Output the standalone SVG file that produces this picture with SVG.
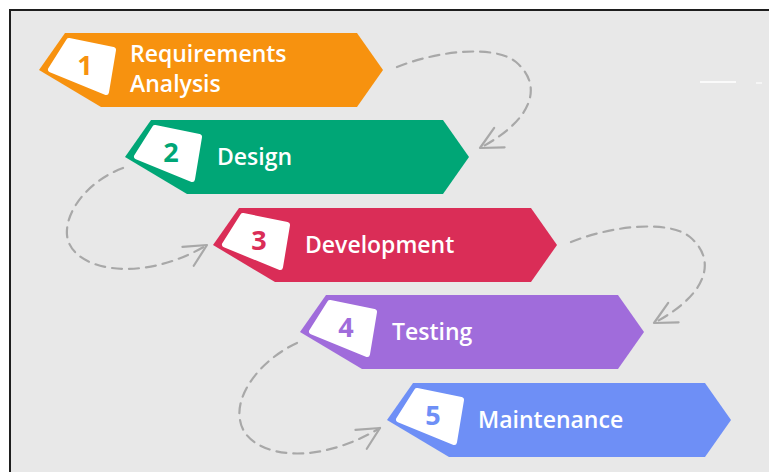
<svg xmlns="http://www.w3.org/2000/svg" xmlns:xlink="http://www.w3.org/1999/xlink" width="769" height="472" viewBox="0 0 769 472">
  <style>
    .label { font-family: "Open Sans", "Liberation Sans", sans-serif; font-weight: 600; font-size: 23px; fill: #ffffff; }
    .num { font-family: "Open Sans", "Liberation Sans", sans-serif; font-weight: 700; font-size: 27px; text-anchor: middle; }
    .card { fill: #ffffff; stroke: #ffffff; stroke-width: 6; stroke-linejoin: round; }
    .conn { fill: none; stroke: #a8a8a8; stroke-width: 2.2; stroke-dasharray: 10 7; stroke-linecap: round; marker-end: url(#chev); }
  </style>
  <defs>
    <path id="shape" d="M0,0 L26,-37 L318,-37 L344,0 L318,37 L62,37 Z"/>
    <polygon id="cardShape" points="12,-0.5 30,-29 74,-20 67,22"/>
    <marker id="chev" markerUnits="userSpaceOnUse" markerWidth="34" markerHeight="34" viewBox="-30 -17 34 34" refX="0" refY="0" orient="auto">
      <path d="M-22,-11 L0,0 L-22,11" fill="none" stroke="#a8a8a8" stroke-width="2.2" stroke-linecap="round" stroke-linejoin="round"/>
    </marker>
  </defs>

  <rect x="0" y="0" width="769" height="472" fill="#ffffff"/>
  <rect x="10" y="10" width="770" height="470" fill="#e8e8e8" stroke="#1e1e1e" stroke-width="2"/>
  <line x1="700" y1="82" x2="736" y2="82" stroke="#ffffff" stroke-width="2" opacity="0.8"/>
  <line x1="756" y1="83" x2="762" y2="83" stroke="#ffffff" stroke-width="2" opacity="0.6"/>

  <g id="connectors">
    <path class="conn" d="M397,67 C440,50 495,45 516,62 C542,84 536,118 480,148"/>
    <path class="conn" d="M123,168 C90,180 65,210 67,235 C70,270 140,285 207,245"/>
    <path class="conn" d="M571,242 C614,225 669,220 690,237 C716,259 710,293 654,323"/>
    <path class="conn" d="M297,343 C260,360 235,395 240,420 C245,455 310,470 380,428"/>
  </g>

  <g id="node1" transform="translate(39,70)">
    <use xlink:href="#shape" fill="#f7920f"/>
    <use xlink:href="#cardShape" class="card"/>
    <text class="num" x="46" y="5" fill="#f7920f">1</text>
    <text class="label" x="91" y="-8">Requirements</text>
    <text class="label" x="91" y="22">Analysis</text>
  </g>

  <g id="node2" transform="translate(125,157)">
    <use xlink:href="#shape" fill="#00a676"/>
    <use xlink:href="#cardShape" class="card"/>
    <text class="num" x="46" y="5" fill="#00a676">2</text>
    <text class="label" x="92" y="8">Design</text>
  </g>

  <g id="node3" transform="translate(213,245)">
    <use xlink:href="#shape" fill="#da2d57"/>
    <use xlink:href="#cardShape" class="card"/>
    <text class="num" x="46" y="5" fill="#da2d57">3</text>
    <text class="label" x="92" y="8">Development</text>
  </g>

  <g id="node4" transform="translate(300,332)">
    <use xlink:href="#shape" fill="#a06cdb"/>
    <use xlink:href="#cardShape" class="card"/>
    <text class="num" x="46" y="5" fill="#a06cdb">4</text>
    <text class="label" x="92" y="8">Testing</text>
  </g>

  <g id="node5" transform="translate(387,420)">
    <use xlink:href="#shape" fill="#6e8ff6"/>
    <use xlink:href="#cardShape" class="card"/>
    <text class="num" x="46" y="5" fill="#6e8ff6">5</text>
    <text class="label" x="91" y="8">Maintenance</text>
  </g>
</svg>
